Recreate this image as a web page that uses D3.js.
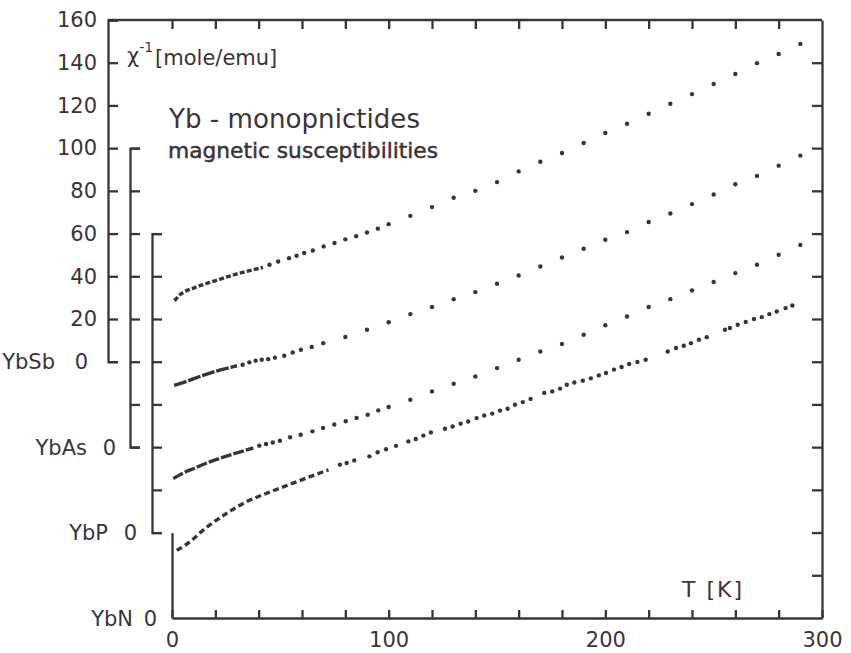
<!DOCTYPE html>
<html>
<head>
<meta charset="utf-8">
<script src="https://cdn.jsdelivr.net/npm/d3@7"></script>
<style>
  body { margin: 0; background: #fff; }
  svg { display: block; }
  .axis path, .axis line { stroke: #3b3339; stroke-width: 2.3; fill: none; }
  .axis text { font-family: "DejaVu Sans", sans-serif; font-size: 21px; fill: #3b3339; }
  text { fill: #3b3339; font-family: "DejaVu Sans", sans-serif; }
</style>
</head>
<body>
<svg id="chart" width="851" height="653"></svg>
<script>
// inverse susceptibility (mole/emu) against T (K), each compound on its own shifted zero
const ybSbCurveT = [1, 2, 3, 5, 7, 10, 14, 18, 22, 26, 30, 34, 38, 42];
const ybSbCurveChi = [28.7, 29.5, 30.8, 32.3, 33.4, 34.5, 36.0, 37.3, 38.6, 39.9, 41.1, 42.2, 43.2, 44.1];
const ybSbDotT = [45, 49, 54, 57.5, 61, 65, 70, 75, 80, 85, 90, 95, 100, 110, 120, 130, 140, 150, 160,
  170, 180, 190, 200, 210, 220, 230, 240, 250, 260, 270, 280, 290];
const ybSbDotChi = [45.4, 46.9, 48.5, 49.6, 50.9, 52.1, 54.0, 55.6, 57.3, 58.8, 60.5, 62.3, 64.4, 68.3,
  72.4, 76.8, 80.0, 84.1, 89.1, 93.6, 97.7, 102.4, 107.1, 111.4, 116.1, 120.8, 125.3, 130.0, 134.7,
  139.8, 144.1, 148.8];

const ybAsCurveT = [1, 4, 8, 12, 17.5, 22, 26.8, 30];
const ybAsCurveChi = [28.9, 29.9, 31.3, 32.8, 34.7, 36.1, 37.3, 38.1];
const ybAsDotT = [32.6, 35.7, 38.6, 41.4, 44.4, 47.5, 51.8, 55.7, 59.5, 64.5, 69.8, 80, 90, 100, 110,
  120, 130, 140, 150, 160, 170, 180, 190, 200, 210, 220, 230, 240, 250, 260, 270, 280, 290];
const ybAsDotChi = [38.6, 39.7, 40.5, 40.9, 41.2, 41.9, 42.8, 44.3, 45.6, 46.9, 48.7, 51.6, 55.0, 58.5,
  62.3, 65.6, 69.3, 72.6, 76.5, 80.4, 84.6, 88.8, 92.9, 97.1, 100.7, 105.4, 109.4, 113.8, 118.3, 123.1,
  127.0, 131.8, 136.5];

const ybPCurveT = [0.6, 5, 9.8, 19, 28.3, 37.5];
const ybPCurveChi = [25.3, 27.8, 29.9, 33.7, 36.8, 39.6];
const ybPDotT = [40.3, 43.4, 46.5, 49.8, 54.5, 59.4, 64.8, 69.7, 74.9, 80.2, 85.2, 90.3, 95.2, 100,
  110, 120, 130, 140, 150, 160, 170, 180, 190, 200, 210, 220, 230, 240, 250, 260, 270, 280, 290];
const ybPDotChi = [40.7, 41.5, 42.2, 43.0, 44.6, 45.8, 47.4, 49.0, 50.6, 52.1, 53.7, 55.2, 57.2, 58.8,
  62.2, 66.1, 69.7, 73.1, 77.0, 80.9, 84.8, 88.3, 92.6, 97.1, 101.2, 105.6, 109.3, 113.4, 117.3, 121.5,
  125.4, 130.1, 134.7];

const ybNCurveT = [2.2, 6, 9.8, 13.5, 17.5, 25.2, 34.5, 43.7, 52.9, 62.2, 72.2];
const ybNCurveChi = [31.7, 34.0, 37.0, 40.4, 43.6, 49.0, 54.5, 58.4, 62.0, 65.6, 69.4];
const ybNDotT = [77.5, 80.6, 84.1, 91.1, 94.9, 98.8, 103.4, 109.1, 112.5, 116, 119.5, 126, 129.5, 133.2,
  136.7, 140.6, 144.1, 147.8, 151.4, 154.9, 158.3, 161.9, 165.5, 171.8, 175.5, 179.1, 182.2, 185.7,
  189.6, 193.3, 197, 200.3, 204, 207.5, 211, 214.8, 218.6, 228.8, 232.6, 236.2, 239.5, 243.2, 246.8,
  255.2, 257.5, 261.1, 264.8, 268.6, 272.2, 275.7, 279.1, 283.2, 286.3];
const ybNDotChi = [71.8, 72.6, 73.8, 75.7, 77.6, 79.0, 80.6, 82.7, 83.8, 85.4, 86.9, 88.6, 89.7, 91.0,
  92.0, 93.6, 94.8, 95.7, 97.1, 98.0, 99.9, 101.1, 102.6, 105.4, 106.1, 107.4, 109.2, 110.3, 111.1,
  112.2, 113.6, 114.7, 116.3, 117.5, 118.9, 119.9, 120.9, 124.8, 126.4, 127.5, 128.7, 130.3, 131.5,
  135.0, 135.8, 137.3, 138.6, 140.0, 140.9, 142.3, 143.5, 145.1, 146.3];

// how far each zero is pushed down, in YbSb units
const compoundNames = ['YbSb', 'YbAs', 'YbP', 'YbN'];
const zeroShifts = [0, 40, 80, 120];
const axisTops = [160, 140, 140, 40];

const xTicks = d3.range(0, 301, 20);
const xLabels = [0, 100, 200, 300];

const ink = '#3b3339';
const svg = d3.select('#chart');

const x = d3.scaleLinear().domain([0, 300]).range([172, 822]);
// the frame is measured in YbSb units
const frame = d3.scaleLinear().domain([-120, 160]).range([618, 20]);

function yFor(i) {
  return d3.scaleLinear()
    .domain(frame.domain().map(v => v + zeroShifts[i]))
    .range(frame.range());
}

// frame: top border, right border, bottom axis
svg.append('line')
  .attr('x1', 108).attr('x2', 822)
  .attr('y1', frame(160)).attr('y2', frame(160))
  .attr('stroke', ink).attr('stroke-width', 2.3);

const topAxis = svg.append('g')
  .attr('class', 'axis')
  .attr('transform', `translate(0,${frame(160)})`)
  .call(d3.axisTop(x).tickValues(d3.range(0, 281, 20)).tickSize(-9).tickFormat(''));
topAxis.select('.domain').remove();

svg.append('g')
  .attr('class', 'axis')
  .attr('transform', `translate(${x(300)},0)`)
  .call(d3.axisRight(frame).tickValues(d3.range(-100, 141, 20)).tickSize(-10).tickSizeOuter(0).tickFormat(''));

svg.append('g')
  .attr('class', 'axis')
  .attr('transform', `translate(0,${frame(-120)})`)
  .call(d3.axisBottom(x)
    .tickValues(xTicks)
    .tickSize(-8)
    .tickSizeOuter(0)
    .tickPadding(14)
    .tickFormat(v => (xLabels.includes(v) ? v : '')));

// staggered left axes, one per compound
const axisXs = [108, 130, 152, x(0)];
const zeroPads = [20, 14, 15, 15];
const namePads = [53, 43, 44, 39];

compoundNames.forEach((name, i) => {
  const y = yFor(i);
  const scale = d3.scaleLinear().domain([0, axisTops[i]]).range([y(0), y(axisTops[i])]);
  const hasTicks = i < 3;
  const axis = d3.axisLeft(scale)
    .tickValues(hasTicks ? d3.range(0, axisTops[i] + 1, 20) : [0])
    .tickSize(hasTicks ? -10 : 0)
    .tickSizeOuter(hasTicks ? -10 : 0)
    .tickPadding(11)
    .tickFormat(v => (i === 0 && v > 0 ? v : ''));

  svg.append('g')
    .attr('class', 'axis')
    .attr('transform', `translate(${axisXs[i]},0)`)
    .call(axis);

  svg.append('text')
    .attr('x', axisXs[i] - zeroPads[i])
    .attr('y', y(0))
    .attr('dy', '0.36em')
    .attr('text-anchor', 'end')
    .style('font-size', '21px')
    .text('0');

  svg.append('text')
    .attr('x', axisXs[i] - namePads[i])
    .attr('y', y(0))
    .attr('dy', '0.36em')
    .attr('text-anchor', 'end')
    .style('font-size', '21px')
    .text(name);
});

// data: the dense low-temperature runs are drawn as a broken line, the rest as dots
const seriesData = [
  { curveT: ybSbCurveT, curve: ybSbCurveChi, dotT: ybSbDotT, dots: ybSbDotChi, dash: '5 2.2' },
  { curveT: ybAsCurveT, curve: ybAsCurveChi, dotT: ybAsDotT, dots: ybAsDotChi, dash: '13 1.8' },
  { curveT: ybPCurveT, curve: ybPCurveChi, dotT: ybPDotT, dots: ybPDotChi, dash: '11 2' },
  { curveT: ybNCurveT, curve: ybNCurveChi, dotT: ybNDotT, dots: ybNDotChi, dash: '6 3.5' },
];

seriesData.forEach((s, i) => {
  const y = yFor(i);
  const g = svg.append('g').attr('class', 'series');

  const line = d3.line()
    .x(d => x(d[0]))
    .y(d => y(d[1]))
    .curve(d3.curveMonotoneX);

  g.append('path')
    .attr('d', line(d3.zip(s.curveT, s.curve)))
    .attr('fill', 'none')
    .attr('stroke', ink)
    .attr('stroke-width', 3.4)
    .attr('stroke-linecap', 'butt')
    .attr('stroke-dasharray', s.dash);

  g.selectAll('circle')
    .data(d3.zip(s.dotT, s.dots))
    .join('circle')
    .attr('cx', d => x(d[0]))
    .attr('cy', d => y(d[1]))
    .attr('r', 2.2)
    .attr('fill', ink);
});

// labels
const chiLabel = svg.append('text')
  .attr('x', 127)
  .attr('y', 63)
  .style('font-size', '21px');
chiLabel.append('tspan').text('χ');
chiLabel.append('tspan').attr('dy', -11).style('font-size', '14px').text('-1');
chiLabel.append('tspan').attr('dy', 13).attr('dx', 2).text('[mole/emu]');

svg.append('text')
  .attr('x', 169)
  .attr('y', 128)
  .attr('textLength', 251)
  .attr('lengthAdjust', 'spacingAndGlyphs')
  .style('font-size', '27px')
  .text('Yb - monopnictides');

svg.append('text')
  .attr('x', 168)
  .attr('y', 158)
  .attr('textLength', 270)
  .attr('lengthAdjust', 'spacingAndGlyphs')
  .style('font-size', '22px')
  .attr('stroke', ink)
  .attr('stroke-width', 0.5)
  .text('magnetic susceptibilities');

svg.append('text')
  .attr('x', 682)
  .attr('y', 597)
  .attr('textLength', 60)
  .attr('lengthAdjust', 'spacing')
  .style('font-size', '22px')
  .text('T [K]');
</script>
</body>
</html>
